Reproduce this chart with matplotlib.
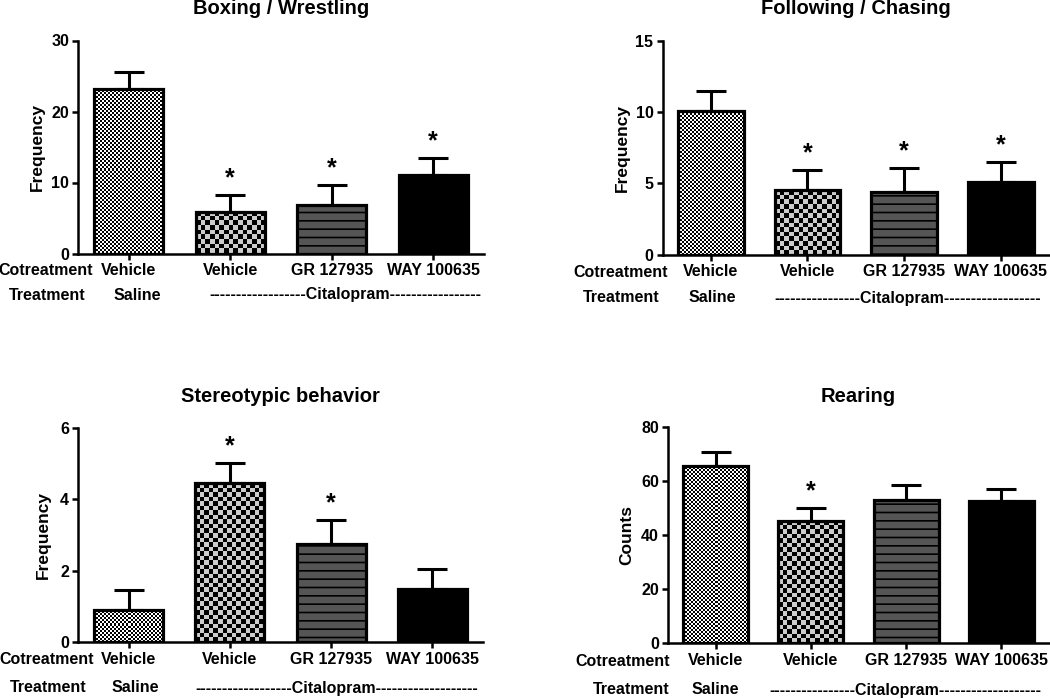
import numpy as np
import matplotlib.pyplot as plt
from matplotlib.colors import ListedColormap

plt.rcParams['font.family'] = ['Liberation Sans', 'DejaVu Sans']
plt.rcParams['font.weight'] = 'bold'
plt.rcParams['hatch.linewidth'] = 1.2

W, H = 1050, 699

cotreatment = ["Vehicle", "Vehicle", "GR 127935", "WAY 100635"]

boxing_mean = [23.2, 5.9, 6.9, 11.0]
boxing_sem = [2.3, 2.3, 2.8, 2.4]
boxing_sig = [False, True, True, True]

following_mean = [10.05, 4.55, 4.42, 5.06]
following_sem = [1.45, 1.4, 1.68, 1.45]
following_sig = [False, True, True, True]

stereo_mean = [0.9, 4.45, 2.75, 1.48]
stereo_sem = [0.56, 0.55, 0.67, 0.56]
stereo_sig = [False, True, True, False]

rearing_mean = [65.8, 45.3, 53.0, 52.6]
rearing_sem = [4.9, 4.6, 5.6, 4.7]
rearing_sig = [False, True, False, False]


def px(x, y):
    return x / W, 1 - y / H


def checker(ax, bar, cell, light, xspan, ymax):
    x0, y0 = bar.get_x(), bar.get_y()
    w, h = bar.get_width(), bar.get_height()
    sx = ax.bbox.width / xspan
    sy = ax.bbox.height / ymax
    nx = max(1, int(round(w * sx / cell)))
    ny = max(1, int(round(h * sy / cell)))
    grid = np.add.outer(np.arange(ny), np.arange(nx)) % 2
    img = ax.imshow(grid, extent=(x0, x0 + w, y0, y0 + h), origin='lower',
                    cmap=ListedColormap(['black', light]), interpolation='nearest',
                    aspect='auto', zorder=2)
    img.set_clip_path(bar)


fig = plt.figure(figsize=(W / 100, H / 100), dpi=100)

# layout in pixels: left, right, top, bottom, title, ylabel x, rows, treatment texts
panels = [
    dict(title="Boxing / Wrestling", ylabel="Frequency", mean=boxing_mean, sem=boxing_sem,
         sig=boxing_sig, ymax=30, ticks=[0, 10, 20, 30],
         box=(78, 484, 40.5, 253.5), title_xy=(281, 9), ylab_x=37,
         cot=(46, 270.7), trt_y=295, trt_x=47.5, sal_x=137.5, cit_x=345, dashes=(18, 17)),
    dict(title="Following / Chasing", ylabel="Frequency", mean=following_mean, sem=following_sem,
         sig=following_sig, ymax=15, ticks=[0, 5, 10, 15],
         box=(662.5, 1049, 40.7, 254.5), title_xy=(856, 9), ylab_x=622,
         cot=(621, 272.7), trt_y=298, trt_x=621, sal_x=712, cit_x=908, dashes=(16, 18)),
    dict(title="Stereotypic behavior", ylabel="Frequency", mean=stereo_mean, sem=stereo_sem,
         sig=stereo_sig, ymax=6, ticks=[0, 2, 4, 6],
         box=(78, 483, 427.7, 642), title_xy=(280, 396), ylab_x=43,
         cot=(46.5, 659.3), trt_y=688, trt_x=48, sal_x=135, cit_x=337, dashes=(18, 19)),
    dict(title="Rearing", ylabel="Counts", mean=rearing_mean, sem=rearing_sem,
         sig=rearing_sig, ymax=80, ticks=[0, 20, 40, 60, 80],
         box=(668, 1049, 427.3, 643), title_xy=(858, 396), ylab_x=626.5,
         cot=(623, 661.7), trt_y=690, trt_x=630.7, sal_x=715.7, cit_x=905.5, dashes=(16, 19)),
]

x = np.arange(len(cotreatment))
for p in panels:
    l, r, t, b = p["box"]
    ax = fig.add_axes([l / W, 1 - b / H, (r - l) / W, (b - t) / H])
    ax.set_xlim(-0.5, 3.5)
    ax.set_ylim(0, p["ymax"])

    ax.errorbar(x, p["mean"], yerr=[np.zeros(4), p["sem"]], fmt='none', ecolor='black',
                elinewidth=2.2, capsize=11, capthick=2.2, zorder=1)
    bars = ax.bar(x, p["mean"], width=0.68, edgecolor='black', linewidth=2.3, zorder=3)
    bars[0].set_facecolor('none')
    bars[1].set_facecolor('none')
    bars[2].set_facecolor('#555555')
    bars[2].set_hatch('--')
    bars[3].set_facecolor('black')
    checker(ax, bars[0], 2, 'white', 4, p["ymax"])
    checker(ax, bars[1], 4.6, '#cccccc', 4, p["ymax"])
    ax.set_xlim(-0.5, 3.5)
    ax.set_ylim(0, p["ymax"])

    tops = np.array(p["mean"]) + np.array(p["sem"])
    for xi, top, s in zip(x, tops, p["sig"]):
        if s:
            ax.annotate("*", xy=(xi, top), xytext=(0, 7), textcoords='offset points',
                        ha='center', va='baseline', fontsize=18, fontweight='bold')

    ax.set_yticks(p["ticks"])
    ax.set_xticks(x)
    ax.set_xticklabels(cotreatment)
    ax.tick_params(axis='both', labelsize=11.5, width=1.8, length=4.5, pad=2)
    ax.tick_params(axis='x', pad=2.5)
    for side in ["top", "right"]:
        ax.spines[side].set_visible(False)
    for side in ["left", "bottom"]:
        ax.spines[side].set_linewidth(1.8)

    fig.text(*px(*p["title_xy"]), p["title"], ha='center', va='center', fontsize=14.5, fontweight='bold')
    fig.text(*px(p["ylab_x"], (t + b) / 2), p["ylabel"], rotation=90, ha='center', va='center',
             fontsize=12.5, fontweight='bold')
    fig.text(*px(*p["cot"]), "Cotreatment", ha='center', va='center', fontsize=11.5)
    fig.text(*px(p["trt_x"], p["trt_y"]), "Treatment", ha='center', va='center', fontsize=11.5)
    fig.text(*px(p["sal_x"], p["trt_y"]), "Saline", ha='center', va='center', fontsize=11.5)
    dl, dr = p["dashes"]
    fig.text(*px(p["cit_x"], p["trt_y"]), "-" * dl + "Citalopram" + "-" * dr,
             ha='center', va='center', fontsize=11.5)

fig.savefig("out.png", dpi=100)
